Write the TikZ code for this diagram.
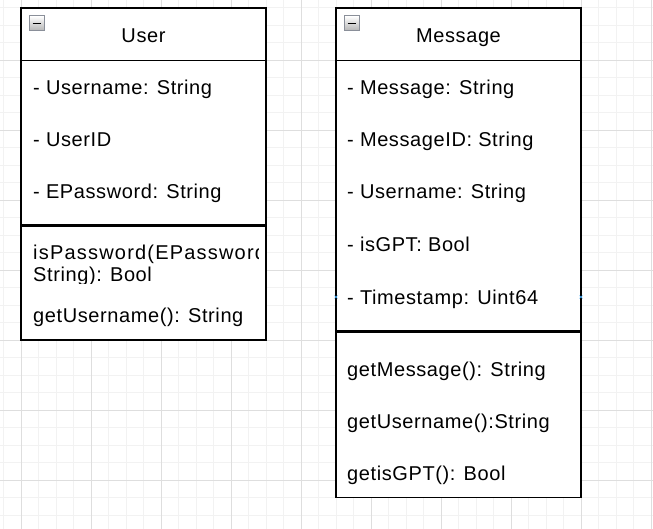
\documentclass[tikz,border=0pt]{standalone}
\usepackage{fontspec}
\setmainfont{Liberation Sans}[LetterSpace=3]
\definecolor{gridminor}{HTML}{F2F2F2}
\definecolor{gridmajor}{HTML}{DEDEDE}
\definecolor{iconborder}{HTML}{8A8F99}
\definecolor{marker}{HTML}{3FA9F5}
\tikzset{
  umlbox/.style={draw=black, line width=1.6pt, fill=white},
  headsep/.style={draw=black, line width=1.4pt},
  thicksep/.style={draw=black, line width=3pt},
  member/.style={anchor=base west, inner sep=0pt, font=\fontsize{20}{24}\selectfont},
  title/.style={anchor=base, inner sep=0pt, font=\fontsize{20}{24}\selectfont},
}
\begin{document}
\begin{tikzpicture}[x=1pt,y=-1pt]
\useasboundingbox (0,0) rectangle (653,529);
% background grid
\fill[white] (0,0) rectangle (653,529);
\foreach \i in {-1,...,37} {
  \draw[gridminor, line width=0.8pt] ({21+17.5*\i},0) -- ({21+17.5*\i},529);
}
\foreach \i in {-4,...,30} {
  \draw[gridminor, line width=0.8pt] (0,{60+17.5*\i}) -- (653,{60+17.5*\i});
}
\foreach \i in {0,...,9} {
  \draw[gridmajor, line width=0.8pt] ({21+70*\i},0) -- ({21+70*\i},529);
}
\foreach \i in {-1,...,7} {
  \draw[gridmajor, line width=0.8pt] (0,{60+70*\i}) -- (653,{60+70*\i});
}

% ---------- User class ----------
\draw[umlbox] (21,8) rectangle (266,340);
\draw[headsep] (21,60.5) -- (266,60.5);
\draw[thicksep] (21,226) -- (266,226);
\node[title] (usertitle) at (143.5,43) {User};
\shade[top color=white, bottom color=gray!60] (29,16) rectangle (44,31);
\draw[iconborder, line width=1pt] (29,16) rectangle (44,31);
\draw[black, line width=1.8pt] (32.5,23.5) -- (40.5,23.5);
\node[member] (u1) at (33,95) {- Username: String};
\node[member] (u2) at (33,147) {- UserID};
\node[member] (u3) at (33,199) {- EPassword: String};
\begin{scope}
  \clip (22,230) rectangle (258,284);
  \node[member, font=\fontsize{20}{24}\selectfont\addfontfeatures{LetterSpace=6}] (u4) at (33,260) {isPassword(EPassword:};
  \node[member] (u5) at (33,281.5) {String): Bool};
\end{scope}
\node[member] (u6) at (33,323) {getUsername(): String};

% ---------- Message class ----------
\draw[umlbox] (336,8) rectangle (581,497.5);
\draw[headsep] (336,60.5) -- (581,60.5);
\draw[thicksep] (336,331) -- (581,331);
\node[title] (msgtitle) at (458.5,43) {Message};
\shade[top color=white, bottom color=gray!60] (344,16) rectangle (359,31);
\draw[iconborder, line width=1pt] (344,16) rectangle (359,31);
\draw[black, line width=1.8pt] (347.5,23.5) -- (355.5,23.5);
\node[member] (m1) at (347,95) {- Message: String};
\node[member] (m2) at (347,147) {- MessageID: String};
\node[member] (m3) at (347,199) {- Username: String};
\node[member] (m4) at (347,252) {- isGPT: Bool};
\node[member] (m5) at (347,304.5) {- Timestamp: Uint64};
\node[member] (m6) at (347,376) {getMessage(): String};
\node[member] (m7) at (347,428.5) {getUsername():String};
\node[member] (m8) at (347,480.5) {getisGPT(): Bool};

% connection markers
\coordinate (pl) at (336,297);
\coordinate (pr) at (581,297);
\foreach \p in {pl,pr} {
  \draw[marker, line width=0.6pt] ([shift={(-1.5,-1.5)}]\p) -- ([shift={(1.5,1.5)}]\p);
  \draw[marker, line width=0.6pt] ([shift={(-1.5,1.5)}]\p) -- ([shift={(1.5,-1.5)}]\p);
}
\end{tikzpicture}
\end{document}
